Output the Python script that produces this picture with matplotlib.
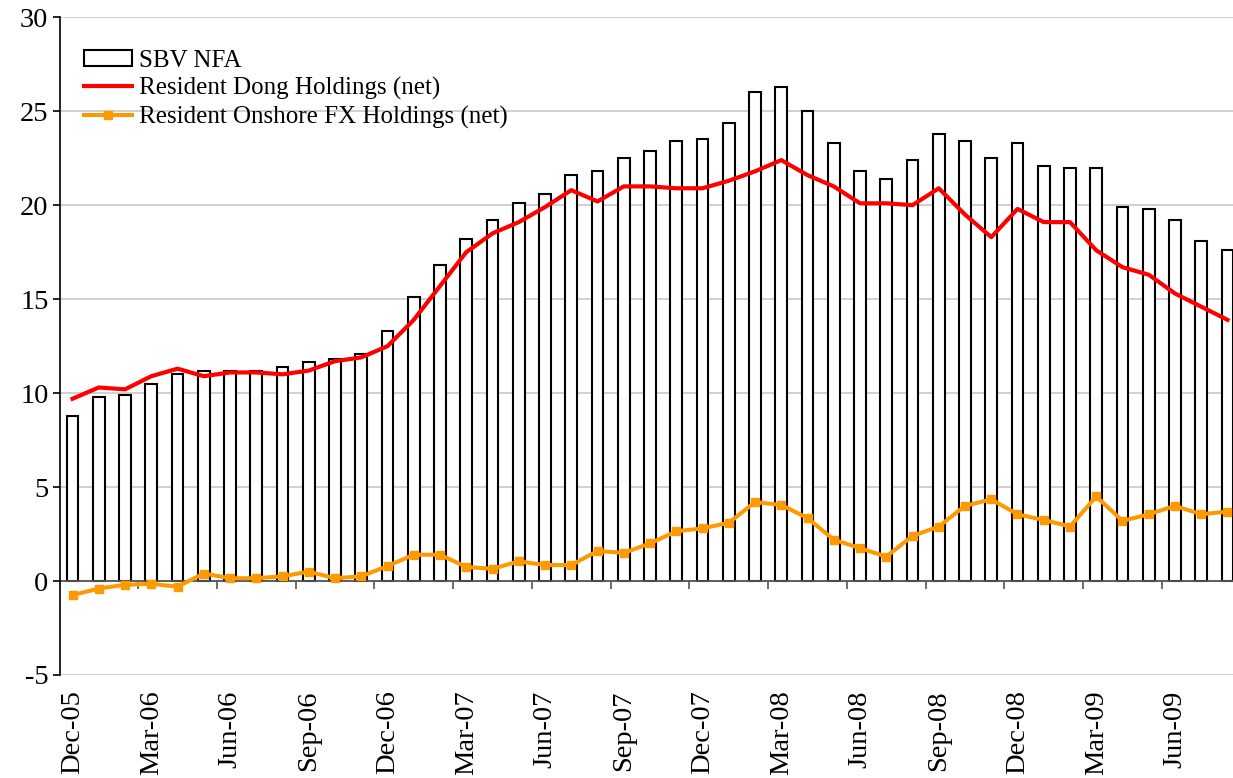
import numpy as np
import matplotlib
matplotlib.use('Agg')
import matplotlib.pyplot as plt

plt.rcParams['font.family'] = ['Liberation Serif', 'DejaVu Serif']
plt.rcParams['axes.unicode_minus'] = False

# monthly, Dec-05 .. Aug-09
months = ['Dec-05', 'Jan-06', 'Feb-06', 'Mar-06', 'Apr-06', 'May-06', 'Jun-06', 'Jul-06',
          'Aug-06', 'Sep-06', 'Oct-06', 'Nov-06', 'Dec-06', 'Jan-07', 'Feb-07', 'Mar-07',
          'Apr-07', 'May-07', 'Jun-07', 'Jul-07', 'Aug-07', 'Sep-07', 'Oct-07', 'Nov-07',
          'Dec-07', 'Jan-08', 'Feb-08', 'Mar-08', 'Apr-08', 'May-08', 'Jun-08', 'Jul-08',
          'Aug-08', 'Sep-08', 'Oct-08', 'Nov-08', 'Dec-08', 'Jan-09', 'Feb-09', 'Mar-09',
          'Apr-09', 'May-09', 'Jun-09', 'Jul-09', 'Aug-09']

sbv_nfa = [8.8, 9.8, 9.9, 10.5, 11.0, 11.2, 11.2, 11.2, 11.4, 11.65, 11.8, 12.1,
           13.3, 15.1, 16.8, 18.2, 19.2, 20.1, 20.6, 21.6, 21.8, 22.5, 22.9, 23.4,
           23.5, 24.4, 26.0, 26.3, 25.0, 23.3, 21.8, 21.4, 22.4, 23.8, 23.4, 22.5,
           23.3, 22.1, 22.0, 22.0, 19.9, 19.8, 19.2, 18.1, 17.6]

dong = [9.7, 10.3, 10.2, 10.9, 11.3, 10.9, 11.1, 11.1, 11.0, 11.2, 11.7, 11.9,
        12.5, 13.9, 15.7, 17.5, 18.5, 19.1, 19.9, 20.8, 20.2, 21.0, 21.0, 20.9,
        20.9, 21.3, 21.8, 22.4, 21.6, 21.0, 20.1, 20.1, 20.0, 20.9, 19.5, 18.3,
        19.8, 19.1, 19.1, 17.6, 16.7, 16.3, 15.3, 14.6, 13.9]

fx = [-0.75, -0.4, -0.2, -0.15, -0.3, 0.4, 0.15, 0.15, 0.25, 0.5, 0.15, 0.25,
      0.8, 1.4, 1.4, 0.75, 0.65, 1.05, 0.85, 0.85, 1.6, 1.5, 2.0, 2.65,
      2.8, 3.1, 4.2, 4.05, 3.35, 2.2, 1.75, 1.3, 2.4, 2.9, 4.0, 4.35,
      3.55, 3.25, 2.9, 4.5, 3.2, 3.55, 4.0, 3.55, 3.7]

x = np.arange(len(months))

fig = plt.figure(figsize=(12.33, 7.78), dpi=100)
ax = fig.add_axes([0.0489, 0.1324, 0.9511, 0.8454])

ax.set_ylim(-5, 30)
ax.set_yticks(range(-5, 31, 5))
ax.set_xlim(-0.467, 44.21)
ax.yaxis.grid(True, color='#c8c8c8', linewidth=1.2)
ax.set_axisbelow(True)

bars = ax.bar(x, sbv_nfa, width=0.45, facecolor='white', edgecolor='black', linewidth=1.5,
              label='SBV NFA', zorder=2)
ax.axhline(0, color='#555555', linewidth=1.3, zorder=2.5)
l1, = ax.plot(x, dong, color='#ff0000', linewidth=3.0, label='Resident Dong Holdings (net)', zorder=3)
l2, = ax.plot(x, fx, color='#ff9900', linewidth=2.9, marker='s', markersize=6,
              label='Resident Onshore FX Holdings (net)', zorder=4)

for s in ['top', 'right', 'bottom']:
    ax.spines[s].set_visible(False)
ax.spines['left'].set_linewidth(1.2)

ax.set_xticks(x[::3])
ax.set_xticklabels(months[::3], rotation=90, fontsize=20.5)
ax.tick_params(axis='x', length=0, pad=11)
ax.tick_params(axis='y', labelsize=20.5, length=5, width=1.2)

# category boundary ticks on the zero line
sec = ax.secondary_xaxis(5 / 35)
sec.set_xticks(np.arange(2.5, 44, 3))
sec.set_xticklabels([])
sec.tick_params(length=6, width=1.2, color='#555555', direction='out')
sec.spines['bottom'].set_visible(False)

ax.legend([bars, l1, l2], ['SBV NFA', 'Resident Dong Holdings (net)', 'Resident Onshore FX Holdings (net)'],
          loc='upper left', bbox_to_anchor=(0.012, 0.966), frameon=False, fontsize=18,
          handlelength=1.9, handleheight=0.6, handletextpad=0.3, labelspacing=0.22,
          borderaxespad=0)

fig.savefig('out.png', dpi=100)
